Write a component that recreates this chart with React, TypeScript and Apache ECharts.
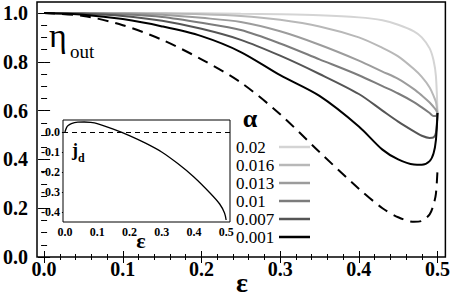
import React, { useEffect, useRef } from "react";
import * as echarts from "echarts";

const eps = [0, 0.05, 0.1, 0.15, 0.2, 0.25, 0.3, 0.35, 0.4, 0.43, 0.45, 0.47, 0.48, 0.49, 0.495, 0.498, 0.5];
const alphaNames = ["0.02", "0.016", "0.013", "0.01", "0.007", "0.001"];
const eta002 = [1, 1, 1, 0.9995, 0.999, 0.997, 0.995, 0.991, 0.982, 0.97, 0.952, 0.925, 0.9, 0.855, 0.805, 0.74, 0.59];
const eta0016 = [1, 1, 0.9995, 0.998, 0.995, 0.988, 0.972, 0.945, 0.9, 0.857, 0.822, 0.77, 0.738, 0.695, 0.66, 0.635, 0.59];
const eta0013 = [1, 0.9995, 0.998, 0.993, 0.98, 0.963, 0.925, 0.87, 0.805, 0.76, 0.73, 0.688, 0.662, 0.633, 0.615, 0.603, 0.59];
const eta001 = [1, 0.999, 0.994, 0.984, 0.96, 0.93, 0.875, 0.81, 0.745, 0.7, 0.67, 0.635, 0.613, 0.59, 0.578, 0.578, 0.59];
const eta0007 = [1, 0.997, 0.988, 0.968, 0.935, 0.89, 0.825, 0.75, 0.668, 0.6, 0.555, 0.515, 0.497, 0.488, 0.49, 0.51, 0.59];
const eta0001 = [1, 0.993, 0.975, 0.945, 0.905, 0.84, 0.745, 0.66, 0.535, 0.44, 0.4, 0.379, 0.378, 0.393, 0.425, 0.48, 0.59];
const etaDashed = [1, 0.988, 0.95, 0.89, 0.81, 0.715, 0.585, 0.43, 0.28, 0.2, 0.163, 0.144, 0.148, 0.175, 0.215, 0.26, 0.357];

const jdEps = [0, 0.005, 0.01, 0.02, 0.04, 0.06, 0.08, 0.1, 0.15, 0.2, 0.25, 0.3, 0.35, 0.4, 0.45, 0.48, 0.495, 0.5];
const jdVals = [0, 0.022, 0.032, 0.042, 0.049, 0.05, 0.048, 0.042, 0.014, -0.018, -0.056, -0.1, -0.158, -0.225, -0.305, -0.36, -0.405, -0.44];

const xMajor = [0, 0.1, 0.2, 0.3, 0.4, 0.5];
const xMinor = [0.02, 0.04, 0.06, 0.08, 0.12, 0.14, 0.16, 0.18, 0.22, 0.24, 0.26, 0.28, 0.32, 0.34, 0.36, 0.38, 0.42, 0.44, 0.46, 0.48];
const yMajor = [0, 0.2, 0.4, 0.6, 0.8, 1.0];
const yMinor = [0.05, 0.1, 0.15, 0.25, 0.3, 0.35, 0.45, 0.5, 0.55, 0.65, 0.7, 0.75, 0.85, 0.9, 0.95];
const insetXMajor = [0, 0.1, 0.2, 0.3, 0.4, 0.5];
const insetYMajor = [0, -0.1, -0.2, -0.3, -0.4];

const colors = ["#d4d4d4", "#b8b8b8", "#9c9c9c", "#7c7c7c", "#555555", "#000000"];
const SERIF = "'Liberation Serif', 'Times New Roman', 'DejaVu Serif', serif";

export default function App() {
  const ref = useRef<HTMLDivElement>(null);
  useEffect(() => {
    if (!ref.current) return;
    const chart = echarts.init(ref.current, null, { renderer: "svg" });
    const curves = [eta002, eta0016, eta0013, eta001, eta0007, eta0001];
    const pair = (xs: number[], ys: number[]) => xs.map((x, i) => [x, ys[i]]);
    const fmt = (v: number) => (Math.abs(v) < 1e-9 ? "0.0" : v.toFixed(1));

    const hidden = { show: false };
    const mkX = (grid: number, pos: string, min: number, max: number, ticks: number[], len: number, label: any) => ({
      type: "value", gridIndex: grid, position: pos, min, max,
      axisLine: hidden, splitLine: hidden,
      axisTick: { show: true, inside: true, length: len, customValues: ticks, lineStyle: { color: "#000", width: 1 } },
      axisLabel: label ? { ...label } : { show: false },
    });

    const mainLabel = { show: true, customValues: xMajor, formatter: fmt, fontFamily: SERIF, fontWeight: "bold", fontSize: 20, color: "#000", margin: 2 };
    const mainYLabel = { show: true, customValues: yMajor, formatter: fmt, fontFamily: SERIF, fontWeight: "bold", fontSize: 20, color: "#000", margin: 9 };
    const insetXLabel = { show: true, customValues: insetXMajor, formatter: fmt, fontFamily: SERIF, fontWeight: "bold", fontSize: 12, color: "#000", margin: 4 };
    const insetYLabel = { show: true, customValues: insetYMajor, formatter: fmt, fontFamily: SERIF, fontWeight: "bold", fontSize: 12, color: "#000", margin: 3 };

    const xMin = -0.009, xMax = 0.51, yMin = 0, yMax = 1.045;
    const ixMin = -0.006, ixMax = 0.512, iyMin = -0.45, iyMax = 0.06;

    const series: any[] = curves.map((c, i) => ({
      name: alphaNames[i], type: "line", xAxisIndex: 0, yAxisIndex: 0,
      data: pair(eps, c), showSymbol: false, symbol: "none", smooth: 0.3,
      lineStyle: { color: colors[i], width: 2 }, itemStyle: { color: colors[i] }, z: 3,
    }));
    series.push({
      name: "dashed", type: "line", xAxisIndex: 0, yAxisIndex: 0,
      data: pair(eps, etaDashed), showSymbol: false, symbol: "none", smooth: 0.3,
      lineStyle: { color: "#000", width: 2, type: [11, 7] }, z: 3,
    });
    series.push({
      name: "jd", type: "line", xAxisIndex: 4, yAxisIndex: 4,
      data: pair(jdEps, jdVals), showSymbol: false, symbol: "none", smooth: 0.3,
      lineStyle: { color: "#000", width: 1.3 }, z: 5,
      markLine: {
        silent: true, symbol: "none", label: { show: false },
        lineStyle: { color: "#000", width: 1, type: [5, 4] },
        data: [{ yAxis: 0 }],
      },
    });

    const txt = (x: number, y: number, text: string, size: number, weight: string, align = "left") => ({
      type: "text", x, y, z: 10,
      style: { text, fontFamily: SERIF, fontSize: size, fontWeight: weight, fill: "#000", align, verticalAlign: "middle" },
    });

    chart.setOption({
      animation: false,
      backgroundColor: "#fff",
      grid: [
        { left: 36, right: 5, top: 2, bottom: 45, show: true, borderColor: "#000", borderWidth: 1.5, backgroundColor: "transparent", containLabel: false },
        { left: 63, width: 167, top: 120, height: 102, show: true, borderColor: "#000", borderWidth: 1, backgroundColor: "#fff", z: 4 },
      ],
      xAxis: [
        mkX(0, "bottom", xMin, xMax, xMajor, 6, mainLabel),
        mkX(0, "bottom", xMin, xMax, xMinor, 3, null),
        mkX(0, "top", xMin, xMax, xMajor, 6, null),
        mkX(0, "top", xMin, xMax, xMinor, 3, null),
        mkX(1, "bottom", ixMin, ixMax, insetXMajor, 3, insetXLabel),
        mkX(1, "top", ixMin, ixMax, insetXMajor, 3, null),
      ],
      yAxis: [
        mkX(0, "left", yMin, yMax, yMajor, 6, mainYLabel),
        mkX(0, "left", yMin, yMax, yMinor, 3, null),
        mkX(0, "right", yMin, yMax, yMajor, 6, null),
        mkX(0, "right", yMin, yMax, yMinor, 3, null),
        mkX(1, "left", iyMin, iyMax, insetYMajor, 3, insetYLabel),
        mkX(1, "right", iyMin, iyMax, insetYMajor, 3, null),
      ],
      legend: {
        data: alphaNames, orient: "vertical", left: 236, top: 138, align: "right", padding: 0,
        icon: "rect", itemWidth: 31, itemHeight: 2.5, itemGap: 0, selectedMode: false,
        formatter: "{t|{name}}",
        textStyle: {
          fontFamily: SERIF, fontSize: 17, color: "#000", lineHeight: 18,
          rich: { t: { width: 38, align: "left", fontFamily: SERIF, fontSize: 17, lineHeight: 18 } },
        },
      },
      graphic: [
        txt(49, 35.5, "η", 34, "normal"),
        txt(70, 51.5, "out", 19, "normal"),
        txt(250, 118, "α", 26, "bold", "center"),
        txt(242, 282.5, "ε", 28, "bold", "center"),
        txt(141, 240.5, "ε", 22, "bold", "center"),
        txt(72, 150, "j", 18, "bold"),
        txt(78, 158, "d", 12, "bold"),
      ],
      series,
    });
    return () => chart.dispose();
  }, []);
  return <div ref={ref} style={{ position: "absolute", left: 0, top: 0, width: 453, height: 302 }} />;
}
